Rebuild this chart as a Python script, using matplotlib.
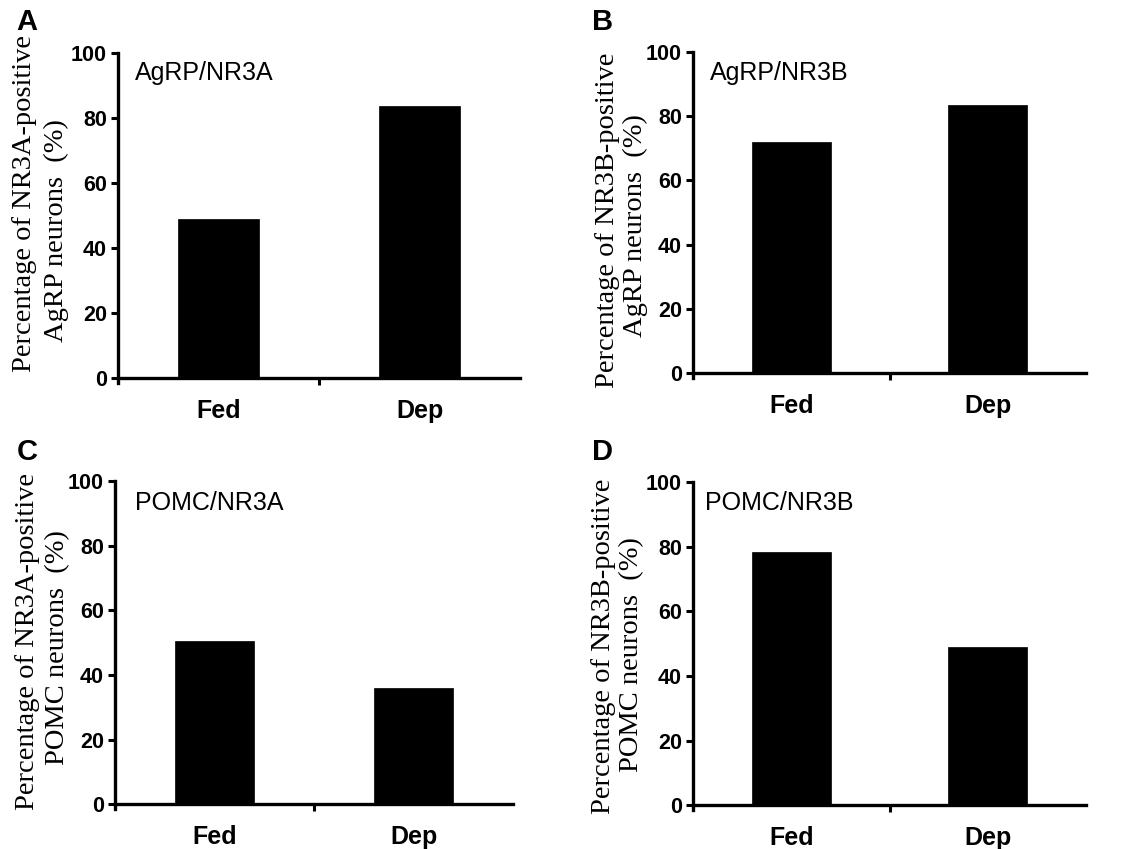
import matplotlib
matplotlib.use("Agg")
import matplotlib.pyplot as plt
from matplotlib import font_manager

W, H = 1122, 849

categories = ["Fed", "Dep"]
panel_letters = ["A", "B", "C", "D"]
panel_titles = ["AgRP/NR3A", "AgRP/NR3B", "POMC/NR3A", "POMC/NR3B"]
ylabel_line1 = ["Percentage of NR3A-positive", "Percentage of NR3B-positive",
                "Percentage of NR3A-positive", "Percentage of NR3B-positive"]
ylabel_line2 = ["AgRP neurons  (%)", "AgRP neurons  (%)",
                "POMC neurons  (%)", "POMC neurons  (%)"]
values_A = [48.8, 83.6]
values_B = [72.1, 83.4]
values_C = [50.6, 36.0]
values_D = [78.4, 48.8]
yticks = [0, 20, 40, 60, 80, 100]

all_values = [values_A, values_B, values_C, values_D]

boxes = [(118, 520, 53, 383), (693, 1086, 52, 378),
         (115, 513, 481, 809), (693, 1086, 482, 810)]
title_pos = [(0.042, 0.918), (0.043, 0.914), (0.05, 0.912), (0.03, 0.915)]
letter_pos = [(27, 22), (603, 22), (27, 452), (603, 452)]
yl1 = [(25, 204), (607, 220), (28, 642), (603, 646)]
yl2 = [(56, 231), (635, 226), (58, 648), (632, 655)]

names = {f.name for f in font_manager.fontManager.ttflist}
narrow_ok = "Liberation Sans Narrow" in names

fig = plt.figure(figsize=(W / 100, H / 100), dpi=100)
sans = ["Liberation Sans", "DejaVu Sans"]
serif = ["Liberation Serif", "DejaVu Serif"]
tick_font = ["Liberation Sans Narrow", "Liberation Sans"] if narrow_ok else sans
tick_size = 17.5 if narrow_ok else 15.5

for i in range(4):
    l, r, t, b = boxes[i]
    ax = fig.add_axes([l / W, 1 - b / H, (r - l) / W, (b - t) / H])
    x = list(range(len(categories)))
    ax.bar(x, all_values[i], width=0.4, color="black", edgecolor="black", linewidth=0.5)
    ax.set_xlim(-0.5, 1.5)
    ax.set_ylim(-1.5, 100)
    ax.spines["bottom"].set_position(("data", 0))
    for s in ["top", "right"]:
        ax.spines[s].set_visible(False)
    for s in ["left", "bottom"]:
        ax.spines[s].set_linewidth(2.4)
    ax.set_yticks(yticks)
    ax.set_yticklabels([str(v) for v in yticks], fontfamily=tick_font, fontweight="bold", fontsize=tick_size)
    ax.tick_params(axis="y", direction="out", length=5, width=2.2, pad=3)
    ax.set_xticks(x)
    ax.set_xticklabels(categories, fontfamily=sans, fontweight="bold", fontsize=18)
    ax.tick_params(axis="x", which="major", length=0, pad=15)
    ax.set_xticks([0.5], minor=True)
    ax.tick_params(axis="x", which="minor", direction="out", length=5, width=2.2)
    ax.text(title_pos[i][0], title_pos[i][1], panel_titles[i], transform=ax.transAxes,
            ha="left", va="baseline", fontsize=18, fontfamily=sans)
    fig.text(letter_pos[i][0] / W, 1 - letter_pos[i][1] / H, panel_letters[i],
             ha="center", va="center", fontsize=21, fontweight="bold", fontfamily=sans)
    fig.text(yl1[i][0] / W, 1 - yl1[i][1] / H, ylabel_line1[i], rotation=90,
             ha="center", va="center", fontsize=20.5, fontfamily=serif)
    fig.text(yl2[i][0] / W, 1 - yl2[i][1] / H, ylabel_line2[i], rotation=90,
             ha="center", va="center", fontsize=20.5, fontfamily=serif)

fig.savefig("out.png", dpi=100)
